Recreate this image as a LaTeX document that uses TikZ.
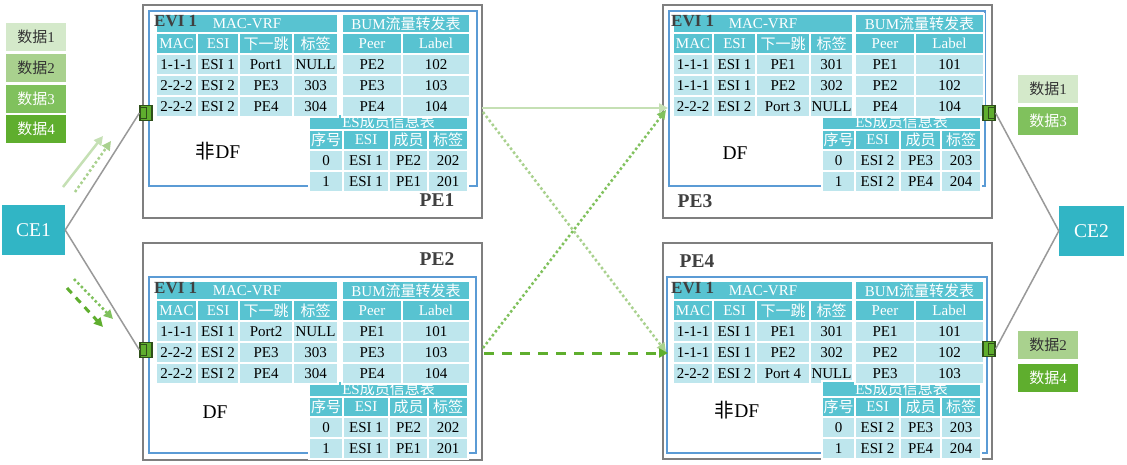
\documentclass[tikz,border=0pt]{standalone}
\usepackage{fontspec}
\setmainfont{Liberation Serif}
\newfontfamily\cjk{Noto Sans CJK SC}
\usetikzlibrary{arrows.meta}
\definecolor{hd}{HTML}{58C3D1}
\definecolor{dt}{HTML}{BEE6ED}
\definecolor{ceC}{HTML}{31B5C5}
\definecolor{g1}{HTML}{C5E0B4}
\definecolor{g1l}{HTML}{D4E9CA}
\definecolor{g2}{HTML}{A9D18E}
\definecolor{g3}{HTML}{80C15D}
\definecolor{g4}{HTML}{5FAE2E}
\definecolor{pgray}{HTML}{7F7F7F}
\definecolor{pblue}{HTML}{5B9BD5}
\definecolor{lbl}{HTML}{404040}
\definecolor{portd}{HTML}{2F4F1A}
\definecolor{lgray}{HTML}{999999}
\newcommand\fs{\fontsize{15}{18}\selectfont}
\newcommand\tc[7]{\node[#6, anchor=north west, minimum width={(#4-#2)*1pt}, minimum height={(#5-#3)*1pt}] (#1) at (#2,#3) {#7};}
\newcommand\MacTab[1]{%
 \tc{mac-t}{\mxA}{14}{\mxE}{33}{hcell}{MAC-VRF}
 \tc{mac-h1}{\mxA}{33}{\mxB}{54}{hcell}{MAC}
 \tc{mac-h2}{\mxB}{33}{\mxC}{54}{hcell}{ESI}
 \tc{mac-h3}{\mxC}{33}{\mxD}{54}{hcell}{\cjk 下一跳}
 \tc{mac-h4}{\mxD}{33}{\mxE}{54}{hcell}{\cjk 标签}
 \foreach \a/\b/\c/\d [count=\r] in {#1}{%
  \pgfmathsetmacro\yt{33+21*\r}\pgfmathsetmacro\yb{54+21*\r}
  \tc{mac-\r-1}{\mxA}{\yt}{\mxB}{\yb}{dcell}{\a}
  \tc{mac-\r-2}{\mxB}{\yt}{\mxC}{\yb}{dcell}{\b}
  \tc{mac-\r-3}{\mxC}{\yt}{\mxD}{\yb}{dcell}{\c}
  \tc{mac-\r-4}{\mxD}{\yt}{\mxE}{\yb}{dcell}{\d}
 }}
\newcommand\BumTab[1]{%
 \tc{bum-t}{\bxA}{14}{\bxC}{33}{hcell}{BUM{\cjk 流量转发表}}
 \tc{bum-h1}{\bxA}{33}{\bxB}{54}{hcell}{Peer}
 \tc{bum-h2}{\bxB}{33}{\bxC}{54}{hcell}{Label}
 \foreach \a/\b [count=\r] in {#1}{%
  \pgfmathsetmacro\yt{33+21*\r}\pgfmathsetmacro\yb{54+21*\r}
  \tc{bum-\r-1}{\bxA}{\yt}{\bxB}{\yb}{dcell}{\a}
  \tc{bum-\r-2}{\bxB}{\yt}{\bxC}{\yb}{dcell}{\b}
 }}
\newcommand\EsTab[1]{%
 \tc{es-t}{\exA}{114}{\exE}{130}{hcell}{ES{\cjk 成员信息表}}
 \tc{es-h1}{\exA}{130}{\exB}{150}{hcell}{\cjk 序号}
 \tc{es-h2}{\exB}{130}{\exC}{150}{hcell}{ESI}
 \tc{es-h3}{\exC}{130}{\exD}{150}{hcell}{\cjk 成员}
 \tc{es-h4}{\exD}{130}{\exE}{150}{hcell}{\cjk 标签}
 \foreach \a/\b/\c/\d [count=\r] in {#1}{%
  \pgfmathsetmacro\yt{129+21*\r}\pgfmathsetmacro\yb{150+21*\r}
  \tc{es-\r-1}{\exA}{\yt}{\exB}{\yb}{dcell}{\a}
  \tc{es-\r-2}{\exB}{\yt}{\exC}{\yb}{dcell}{\b}
  \tc{es-\r-3}{\exC}{\yt}{\exD}{\yb}{dcell}{\c}
  \tc{es-\r-4}{\exD}{\yt}{\exE}{\yb}{dcell}{\d}
 }}
\newcommand\LeftCols{\def\mxA{156}\def\mxB{197}\def\mxC{239}\def\mxD{293}\def\mxE{338}%
 \def\bxA{342}\def\bxB{402}\def\bxC{470}%
 \def\exA{309}\def\exB{343}\def\exC{389}\def\exD{428}\def\exE{468}}
\newcommand\RightCols{\def\mxA{673}\def\mxB{713}\def\mxC{756}\def\mxD{810}\def\mxE{853}%
 \def\bxA{855}\def\bxB{915}\def\bxC{984}%
 \def\exA{822}\def\exB{855}\def\exC{900}\def\exD{941}\def\exE{981}}
\tikzset{
 cellbase/.style={draw=white, line width=1.5pt, inner sep=0pt, outer sep=0pt, font=\fs},
 hcell/.style={cellbase, fill=hd, text=white},
 dcell/.style={cellbase, fill=dt, text=black},
 outerbox/.style={draw=pgray, line width=1.5pt, inner sep=0pt, outer sep=0pt},
 bluebox/.style={draw=pblue, line width=1.5pt, inner sep=0pt, outer sep=0pt},
 evi/.style={font=\fontsize{17}{18}\selectfont\bfseries, text=lbl, inner sep=0pt, anchor=west},
 pelbl/.style={font=\fontsize{19.5}{22}\selectfont\bfseries, text=lbl, inner sep=0pt},
 dflbl/.style={font=\fontsize{19.5}{22}\selectfont, text=black, inner sep=0pt},
 port/.style={draw=portd, fill=g4, line width=1.2pt, minimum width=12pt, minimum height=15pt, inner sep=0pt},
 portin/.style={draw=portd, line width=1pt},
 ce/.style={fill=ceC, text=white, font=\fontsize{19.5}{22}\selectfont, minimum height=50pt, inner sep=0pt},
 dlab/.style={minimum width=60pt, minimum height=28pt, inner sep=0pt, font=\fs},
 conn/.style={draw=lgray, line width=1.5pt},
 flow/.style={line width=2.5pt, -{Triangle[length=9pt,width=9pt]}},
 dotf/.style={dash pattern=on 2.5pt off 2.5pt},
 dashf/.style={dash pattern=on 10pt off 8pt},
}
\begin{document}
\begin{tikzpicture}[x=1pt,y=-1pt]
\useasboundingbox[fill=white] (0,0) rectangle (1127,464);
% ---------- PE1 ----------
\begin{scope}[name prefix=pe1-]
\LeftCols
\tc{box}{143}{5}{482}{218}{outerbox}{}
\tc{vrf}{149}{11}{477}{186}{bluebox}{}
\EsTab{0/ESI 1/PE2/202, 1/ESI 1/PE1/201}
\MacTab{1-1-1/ESI 1/Port1/NULL, 2-2-2/ESI 2/PE3/303, 2-2-2/ESI 2/PE4/304}
\BumTab{PE2/102, PE3/103, PE4/104}
\node[evi] (evi) at (154,21) {EVI 1};
\node[dflbl] (df) at (218,151) {{\cjk 非}DF};
\node[pelbl] (name) at (437,200) {PE1};
\end{scope}
% ---------- PE2 ----------
\begin{scope}[name prefix=pe2-]
\LeftCols
\tc{box}{143}{243}{482}{460}{outerbox}{}
\tc{vrf}{149}{277}{476}{453}{bluebox}{}
\begin{scope}[yshift=-267pt]
\EsTab{0/ESI 1/PE2/202, 1/ESI 1/PE1/201}
\MacTab{1-1-1/ESI 1/Port2/NULL, 2-2-2/ESI 2/PE3/303, 2-2-2/ESI 2/PE4/304}
\BumTab{PE1/101, PE3/103, PE4/104}
\node[evi] (evi) at (154,21) {EVI 1};
\end{scope}
\node[dflbl] (df) at (215,412) {DF};
\node[pelbl] (name) at (437,259) {PE2};
\end{scope}
% ---------- PE3 ----------
\begin{scope}[name prefix=pe3-]
\RightCols
\tc{box}{663}{5}{992}{218}{outerbox}{}
\tc{vrf}{669}{11}{985}{186}{bluebox}{}
\EsTab{0/ESI 2/PE3/203, 1/ESI 2/PE4/204}
\MacTab{1-1-1/ESI 1/PE1/301, 1-1-1/ESI 1/PE2/302, 2-2-2/ESI 2/Port 3/NULL}
\BumTab{PE1/101, PE2/102, PE4/104}
\node[evi] (evi) at (671,21) {EVI 1};
\node[dflbl] (df) at (735,153) {DF};
\node[pelbl] (name) at (695,201) {PE3};
\end{scope}
% ---------- PE4 ----------
\begin{scope}[name prefix=pe4-]
\RightCols
\tc{box}{663}{243}{992}{459}{outerbox}{}
\tc{vrf}{667}{277}{987}{453}{bluebox}{}
\begin{scope}[yshift=-267pt]
\MacTab{1-1-1/ESI 1/PE1/301, 1-1-1/ESI 1/PE2/302, 2-2-2/ESI 2/Port 4/NULL}
\EsTab{0/ESI 2/PE3/203, 1/ESI 2/PE4/204}
\BumTab{PE1/101, PE2/102, PE3/103}
\node[evi] (evi) at (671,21) {EVI 1};
\end{scope}
\node[dflbl] (df) at (737,410) {{\cjk 非}DF};
\node[pelbl] (name) at (697,261) {PE4};
\end{scope}
% ---------- ports ----------
\node[port] (p1) at (146,113) {};
\node[port] (p2) at (146,350) {};
\node[port] (p3) at (989,113) {};
\node[port] (p4) at (989,349) {};
\draw[portin] ([shift={(1.5,2.5)}]p1.north west) rectangle ([shift={(7.5,-2.5)}]p1.south west);
\draw[portin] ([shift={(1.5,2.5)}]p2.north west) rectangle ([shift={(7.5,-2.5)}]p2.south west);
\draw[portin] ([shift={(-1.5,2.5)}]p3.north east) rectangle ([shift={(-7.5,-2.5)}]p3.south east);
\draw[portin] ([shift={(-1.5,2.5)}]p4.north east) rectangle ([shift={(-7.5,-2.5)}]p4.south east);
% ---------- CEs ----------
\node[ce, minimum width=63pt] (ce1) at (33.5,230) {CE1};
\node[ce, minimum width=65pt] (ce2) at (1091.5,231) {CE2};
\draw[conn] (ce1.east) -- (p1.west);
\draw[conn] (ce1.east) -- (p2.west);
\draw[conn] (ce2.west) -- (p3.east);
\draw[conn] (ce2.west) -- (p4.east);
% ---------- data labels ----------
\node[dlab, fill=g1l, text=black!80] (l1) at (36,37) {{\cjk 数据}1};
\node[dlab, fill=g2, text=black!80] (l2) at (36,67.5) {{\cjk 数据}2};
\node[dlab, fill=g3, text=white] (l3) at (36,98.5) {{\cjk 数据}3};
\node[dlab, fill=g4, text=white] (l4) at (36,129) {{\cjk 数据}4};
\node[dlab, fill=g1l, text=black!80] (r1) at (1048,89) {{\cjk 数据}1};
\node[dlab, fill=g3, text=white] (r3) at (1048,121) {{\cjk 数据}3};
\node[dlab, fill=g2, text=black!80] (r2) at (1048,345) {{\cjk 数据}2};
\node[dlab, fill=g4, text=white] (r4) at (1048,377.5) {{\cjk 数据}4};
% ---------- flow arrows ----------
\coordinate (e1s) at (63,187);  \coordinate (e1e) at (103,136);
\coordinate (e2s) at (75,192);  \coordinate (e2e) at (111,141);
\coordinate (e3s) at (74,279);  \coordinate (e3e) at (113,319);
\coordinate (e4s) at (67,288);  \coordinate (e4e) at (103,327);
\draw[flow, g1] (e1s) -- (e1e);
\draw[flow, g2, dotf] (e2s) -- (e2e);
\draw[flow, g3, dotf] (e3s) -- (e3e);
\draw[flow, g4, dash pattern=on 7pt off 6pt, line width=3pt] (e4s) -- (e4e);
\coordinate (m1s) at (482,108); \coordinate (m1e) at (668,108);
\coordinate (m2s) at (483,112); \coordinate (m2e) at (666,352);
\coordinate (m3s) at (483,348); \coordinate (m3e) at (666,110);
\coordinate (m4s) at (484,353); \coordinate (m4e) at (668,353);
\draw[flow, g1] (m1s) -- (m1e);
\draw[flow, g2, dotf] (m2s) -- (m2e);
\draw[flow, g3, dotf] (m3s) -- (m3e);
\draw[flow, g4, dashf, line width=3pt] (m4s) -- (m4e);
\end{tikzpicture}
\end{document}
